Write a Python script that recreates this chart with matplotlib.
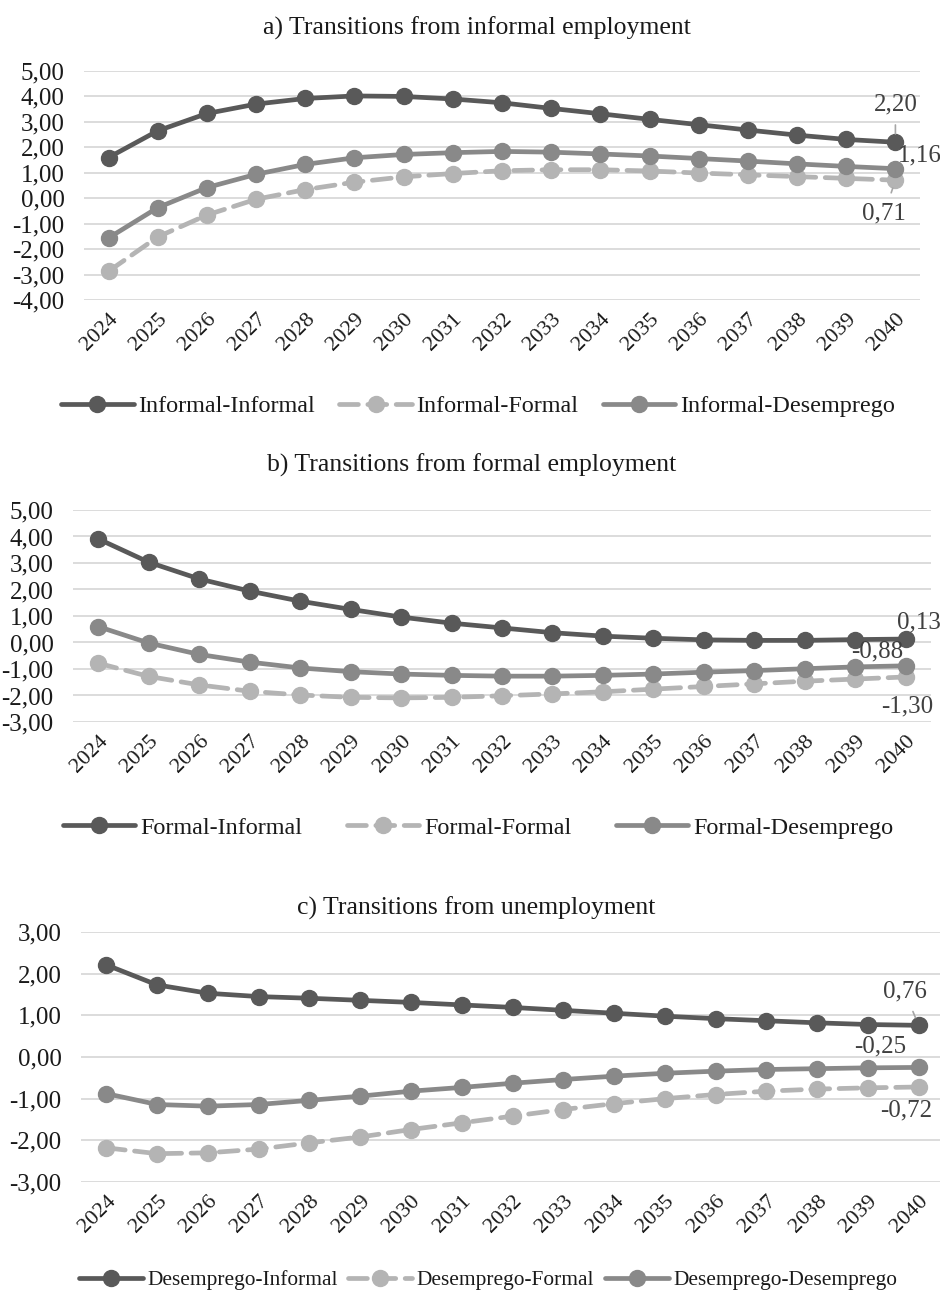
import matplotlib

matplotlib.use("Agg")
import matplotlib.pyplot as plt

plt.rcParams["font.family"] = ["Liberation Serif", "DejaVu Serif"]

years = list(range(2024, 2041))

# a) transitions from informal employment
inf_inf = [1.60, 2.65, 3.33, 3.70, 3.92, 4.02, 4.00, 3.90, 3.75, 3.53, 3.32,
           3.10, 2.89, 2.68, 2.48, 2.31, 2.20]
inf_for = [-2.87, -1.52, -0.66, -0.04, 0.34, 0.63, 0.84, 0.97, 1.08, 1.12,
           1.12, 1.07, 0.99, 0.92, 0.85, 0.78, 0.71]
inf_des = [-1.56, -0.37, 0.42, 0.94, 1.33, 1.59, 1.72, 1.79, 1.84, 1.81,
           1.74, 1.66, 1.56, 1.46, 1.35, 1.25, 1.16]

# b) transitions from formal employment
for_inf = [3.91, 3.03, 2.40, 1.94, 1.56, 1.25, 0.96, 0.73, 0.55, 0.37, 0.24,
           0.16, 0.10, 0.08, 0.08, 0.11, 0.13]
for_for = [-0.78, -1.28, -1.60, -1.84, -1.98, -2.07, -2.09, -2.07, -2.01,
           -1.94, -1.86, -1.76, -1.66, -1.56, -1.46, -1.38, -1.30]
for_des = [0.60, -0.02, -0.45, -0.74, -0.96, -1.10, -1.19, -1.24, -1.27,
           -1.27, -1.24, -1.19, -1.12, -1.06, -0.99, -0.92, -0.88]

# c) transitions from unemployment
des_inf = [2.21, 1.73, 1.53, 1.45, 1.41, 1.36, 1.31, 1.25, 1.19, 1.12, 1.05,
           0.98, 0.92, 0.87, 0.82, 0.78, 0.76]
des_for = [-2.18, -2.32, -2.30, -2.21, -2.06, -1.92, -1.74, -1.58, -1.42,
           -1.26, -1.12, -1.00, -0.90, -0.82, -0.77, -0.74, -0.72]
des_des = [-0.88, -1.14, -1.18, -1.14, -1.04, -0.94, -0.82, -0.73, -0.63,
           -0.54, -0.46, -0.39, -0.34, -0.30, -0.28, -0.26, -0.25]

DARK = "#595959"
LIGHT = "#b4b4b4"
MID = "#898989"
GRID = "#d9d9d9"
TXT = "#1a1a1a"
LBL = "#404040"

W, H = 940, 1290


def px_axes(left, right, top, bottom):
    return [left / W, 1 - bottom / H, (right - left) / W, (bottom - top) / H]


def yfmt(v):
    return f"{v:.2f}".replace(".", ",")


def draw_panel(ax, series, yticks):
    styles = [
        dict(color=DARK, ls="-"),
        dict(color=LIGHT, ls=(0, (4.0, 2.0))),
        dict(color=MID, ls="-"),
    ]
    handles = []
    for (name, vals), st in zip(series, styles):
        (h,) = ax.plot(years, vals, color=st["color"], linestyle=st["ls"],
                       linewidth=3.4, marker="o", markersize=11.5,
                       label=name, solid_capstyle="round",
                       dash_capstyle="round", clip_on=False)
        handles.append(h)
    ax.set_xlim(2023.5, 2040.5)
    ax.set_ylim(yticks[0], yticks[-1])
    ax.set_yticks(yticks)
    ax.set_yticklabels([yfmt(v) for v in yticks], fontsize=18)
    ax.set_xticks(years)
    ax.set_xticklabels([str(y) for y in years], rotation=45, ha="right",
                       rotation_mode="anchor", fontsize=16)
    ax.grid(axis="y", color=GRID, linewidth=1.3)
    ax.set_axisbelow(True)
    for s in ax.spines.values():
        s.set_visible(False)
    ax.tick_params(axis="both", length=0, colors=TXT)
    ax.tick_params(axis="y", pad=14)
    ax.tick_params(axis="x", pad=7)
    return handles


def label(ax, x, y, dx, dy, leader=False):
    kw = {}
    if leader:
        kw["arrowprops"] = dict(arrowstyle="-", color="#a6a6a6", lw=1.2,
                                shrinkA=5, shrinkB=6)
    ax.annotate(yfmt(y), (x, y), xytext=(dx, dy), textcoords="offset pixels",
                ha="center", va="center", fontsize=18, color=LBL, **kw)


fig = plt.figure(figsize=(W / 100, H / 100), dpi=100)

# panel a
ax_a = fig.add_axes(px_axes(84, 920, 71, 300))
ha = draw_panel(ax_a, [("Informal-Informal", inf_inf),
                       ("Informal-Formal", inf_for),
                       ("Informal-Desemprego", inf_des)],
                [-4, -3, -2, -1, 0, 1, 2, 3, 4, 5])
label(ax_a, years[-1], inf_inf[-1], 0, 38, leader=True)
label(ax_a, years[-1], inf_des[-1], 24, 13)
label(ax_a, years[-1], inf_for[-1], -11, -33, leader=True)
fig.text(477 / W, 1 - 28 / H, "a) Transitions from informal employment",
         ha="center", va="center", fontsize=18.5, color=TXT)

# panel b
ax_b = fig.add_axes(px_axes(73, 931, 510, 722))
hb = draw_panel(ax_b, [("Formal-Informal", for_inf),
                       ("Formal-Formal", for_for),
                       ("Formal-Desemprego", for_des)],
                [-3, -2, -1, 0, 1, 2, 3, 4, 5])
label(ax_b, years[-1], for_inf[-1], 13, 17)
label(ax_b, years[-1], for_des[-1], -29, 14)
label(ax_b, years[-1], for_for[-1], 1, -30)
fig.text(472 / W, 1 - 465 / H, "b) Transitions from formal employment",
         ha="center", va="center", fontsize=18.5, color=TXT)

# panel c
ax_c = fig.add_axes(px_axes(81, 944, 932, 1182))
hc = draw_panel(ax_c, [("Desemprego-Informal", des_inf),
                       ("Desemprego-Formal", des_for),
                       ("Desemprego-Desemprego", des_des)],
                [-3, -2, -1, 0, 1, 2, 3])
label(ax_c, years[-1], des_inf[-1], -14, 34, leader=True)
label(ax_c, years[-1], des_des[-1], -38, 21)
label(ax_c, years[-1], des_for[-1], -12, -23)
fig.text(476 / W, 1 - 908 / H, "c) Transitions from unemployment",
         ha="center", va="center", fontsize=18.5, color=TXT)

legend_kw = dict(loc="center", ncol=3, frameon=False, numpoints=1,
                 handlelength=3.0, handletextpad=0.2, borderaxespad=0,
                 labelcolor=TXT)
fig.legend(handles=ha, bbox_to_anchor=(478 / W, 1 - 406 / H),
           fontsize=17.4, columnspacing=1.0, **legend_kw)
fig.legend(handles=hb, bbox_to_anchor=(478 / W, 1 - 828 / H),
           fontsize=17.4, columnspacing=1.85, **legend_kw)
fig.legend(handles=hc, bbox_to_anchor=(488 / W, 1 - 1280 / H),
           fontsize=15.4, columnspacing=0.5, **legend_kw)

fig.savefig("out.png", dpi=100)
